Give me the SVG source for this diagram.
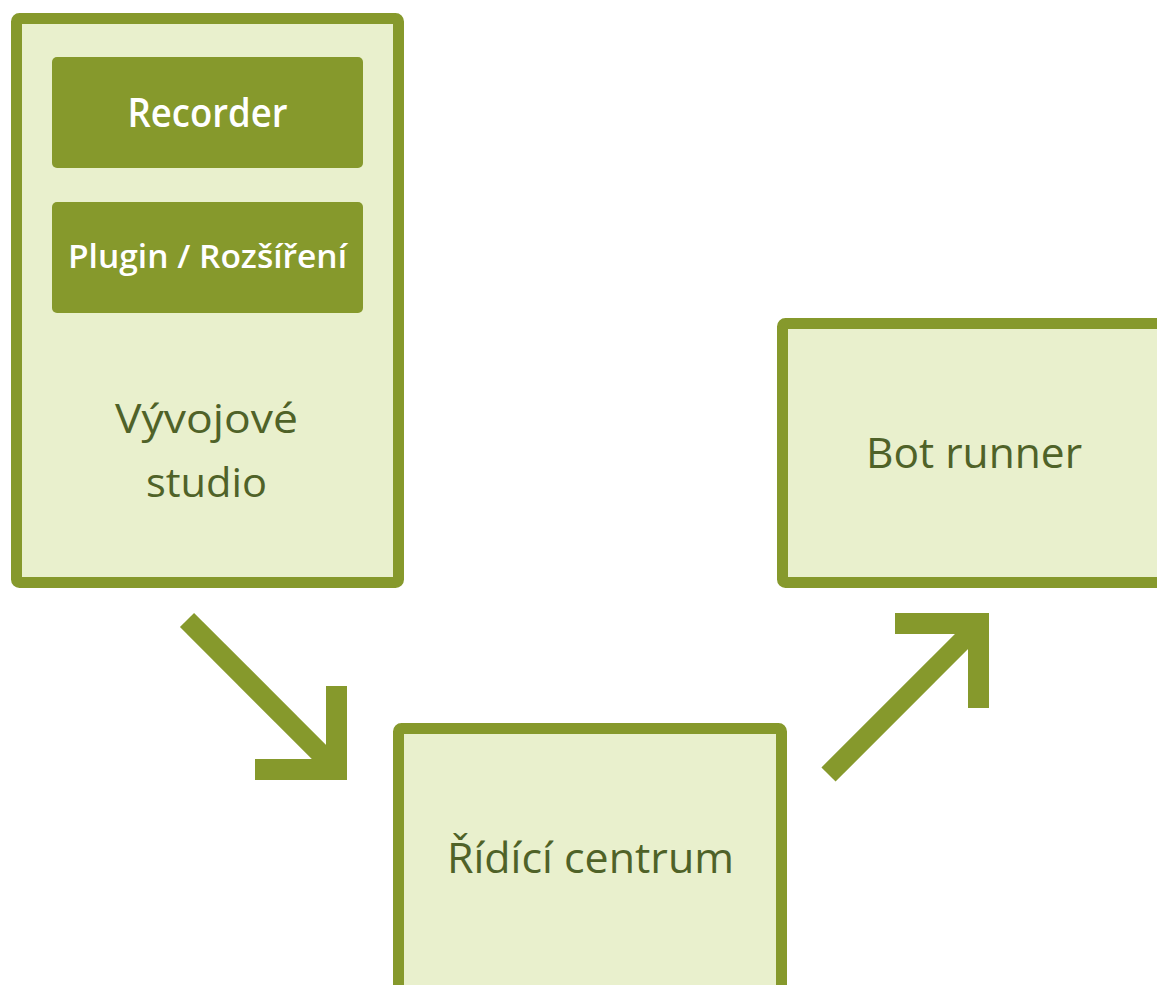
<svg xmlns="http://www.w3.org/2000/svg" width="1157" height="985" viewBox="0 0 1157 985">
<style>
.box{fill:#e9f0cd;stroke:#86992c;stroke-width:11}
.inner{fill:#86992c}
.lbl{font-family:"Open Sans","Liberation Sans",sans-serif;fill:#4f6228;text-anchor:middle}
.wl{font-family:"Open Sans","Liberation Sans",sans-serif;fill:#ffffff;font-weight:600;text-anchor:middle}
.arr{fill:none;stroke:#86992c;stroke-width:21;stroke-linecap:butt;stroke-linejoin:miter}
</style>
<rect width="1157" height="985" fill="#ffffff"/>
<g id="studio">
<rect class="box" x="16.5" y="18.5" width="382" height="564" rx="3"/>
<text class="lbl" x="206.5" y="433" font-size="41" textLength="183" lengthAdjust="spacingAndGlyphs">Vývojové</text>
<text class="lbl" x="206.5" y="497" font-size="41" textLength="121" lengthAdjust="spacingAndGlyphs">studio</text>
</g>
<g id="recorder">
<rect class="inner" x="52" y="57" width="311" height="111" rx="5"/>
<text class="wl" x="207.5" y="127" font-size="39" textLength="160" lengthAdjust="spacingAndGlyphs">Recorder</text>
</g>
<g id="plugin">
<rect class="inner" x="52" y="202" width="311" height="111" rx="5"/>
<text class="wl" x="207.5" y="268" font-size="32" textLength="279" lengthAdjust="spacingAndGlyphs">Plugin / Rozšíření</text>
</g>
<g id="botrunner">
<rect class="box" x="782.5" y="323.5" width="400" height="259" rx="3"/>
<text class="lbl" x="974" y="468" font-size="42" textLength="216" lengthAdjust="spacingAndGlyphs">Bot runner</text>
</g>
<g id="ridici">
<rect class="box" x="398.5" y="728.5" width="383" height="300" rx="3"/>
<text class="lbl" x="590.5" y="873" font-size="42" textLength="287" lengthAdjust="spacingAndGlyphs">Řídící centrum</text>
</g>
<g id="connectors">
<line x1="187" y1="620" x2="333" y2="766" stroke="#86992c" stroke-width="20"/>
<path class="arr" d="M255,769.5 H336.5 V686"/>
<line x1="828.5" y1="774.5" x2="975" y2="628" stroke="#86992c" stroke-width="20"/>
<path class="arr" d="M895,623.5 H978.5 V708"/>
</g>
</svg>
